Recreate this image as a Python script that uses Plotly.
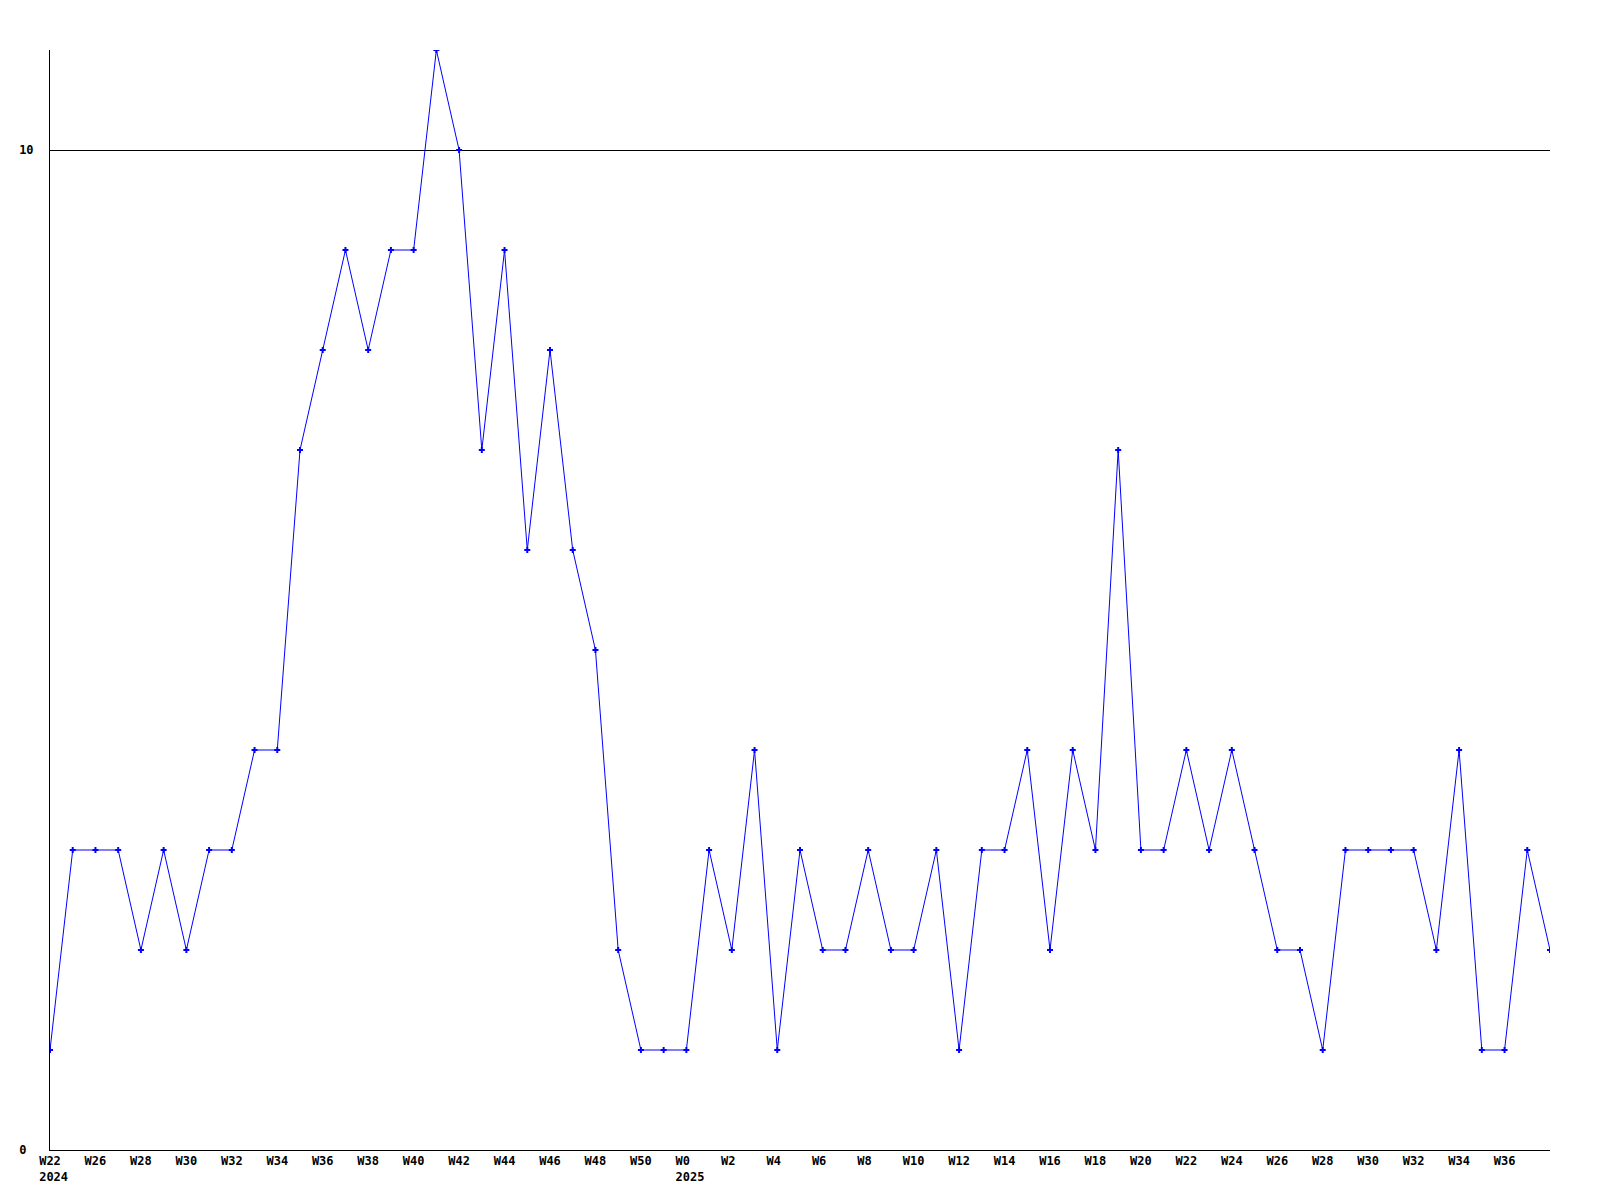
import plotly.graph_objects as go

values = [1, 3, 3, 3, 2, 3, 2, 3, 3, 4, 4, 7, 8, 9, 8, 9, 9, 11, 10, 7, 9, 6, 8, 6, 5, 2, 1, 1, 1,
          3, 2, 4, 1, 3, 2, 2, 3, 2, 2, 3, 1, 3, 3, 4, 2, 4, 3, 7, 3, 3, 4, 3, 4, 3, 2, 2, 1,
          3, 3, 3, 3, 2, 4, 1, 1, 3, 2]
x_index = list(range(len(values)))

tick_positions = list(range(0, 65, 2))
tick_labels = ["W22<br>\u00a02024", "W26", "W28", "W30", "W32", "W34", "W36", "W38", "W40", "W42",
               "W44", "W46", "W48", "W50", "W0\u00a0<br>\u00a02025", "W2\u00a0", "W4\u00a0", "W6\u00a0",
               "W8\u00a0", "W10", "W12", "W14", "W16", "W18", "W20", "W22", "W24", "W26", "W28",
               "W30", "W32", "W34", "W36"]

y_ticks = [0, 10]
y_tick_labels = ["0\u00a0", "10"]

font_family = "DejaVu Sans Mono"
tick_font = dict(family=font_family, size=12, color="black", weight="bold")

fig = go.Figure()
fig.add_trace(go.Scatter(
    x=x_index, y=values, mode="lines+markers",
    line=dict(color="#0000FF", width=1),
    marker=dict(symbol="cross", size=5, color="#0000FF", line=dict(width=0)),
    hoverinfo="skip", showlegend=False,
))

fig.update_layout(
    width=1600, height=1200,
    margin=dict(l=50, r=50, t=50, b=50),
    paper_bgcolor="white", plot_bgcolor="white",
    font=tick_font,
    xaxis=dict(
        range=[0, len(values) - 1], tickmode="array", tickvals=tick_positions, ticktext=tick_labels,
        showgrid=False, zeroline=False, showline=True, linecolor="black", linewidth=1,
        ticks="", tickfont=tick_font,
    ),
    yaxis=dict(
        range=[0, 11], tickmode="array", tickvals=y_ticks, ticktext=y_tick_labels,
        showgrid=True, gridcolor="black", gridwidth=1, zeroline=False,
        showline=True, linecolor="black", linewidth=1, ticks="", ticklabelstandoff=13,
        tickfont=tick_font,
    ),
)

fig.write_html("out.html", config={"displayModeBar": False, "staticPlot": True},
               post_script="document.body.style.margin='0';document.body.style.overflow='hidden';")
